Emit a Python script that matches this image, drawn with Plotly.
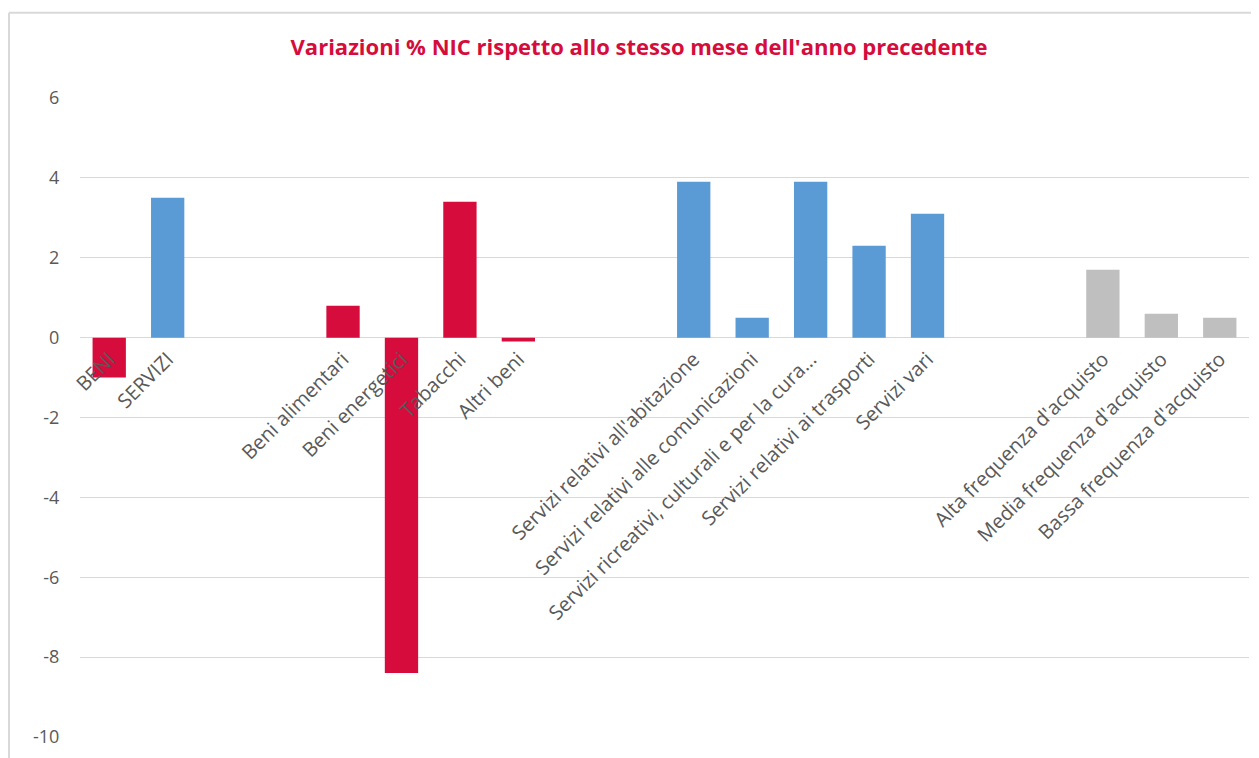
import plotly.graph_objects as go

# Data
categories = ["BENI", "SERVIZI", " ", "  ",
              "Beni alimentari", "Beni energetici", "Tabacchi", "Altri beni", "   ", "    ",
              "Servizi relativi all'abitazione", "Servizi relativi alle comunicazioni",
              "Servizi ricreativi, culturali e per la cura...", "Servizi relativi ai trasporti",
              "Servizi vari", "     ", "      ",
              "Alta frequenza d'acquisto", "Media frequenza d'acquisto", "Bassa frequenza d'acquisto"]
values = [-1.0, 3.5, None, None,
          0.8, -8.4, 3.4, -0.1, None, None,
          3.9, 0.5, 3.9, 2.3, 3.1, None, None,
          1.7, 0.6, 0.5]
groups = ["beni", "servizi", "", "",
          "beni", "beni", "beni", "beni", "", "",
          "servizi", "servizi", "servizi", "servizi", "servizi", "", "",
          "freq", "freq", "freq"]
y_ticks = [6, 4, 2, 0, -2, -4, -6, -8, -10]
y_ticktext = [str(v) for v in y_ticks]
title_text = "Variazioni % NIC rispetto allo stesso mese dell'anno precedente"

group_colors = {"beni": "#D50C3C", "servizi": "#5B9BD5", "freq": "#BFBFBF", "": "#FFFFFF"}
bar_colors = [group_colors[g] for g in groups]

FONT = "Open Sans"
GRID = "#D9D9D9"
TXT = "#595959"

fig = go.Figure(go.Bar(x=categories, y=values, marker=dict(color=bar_colors, line=dict(width=0)),
                       showlegend=False))

# page body has an 8px default margin, so the figure is 8px smaller and margins shifted
ymin, ymax = -10, 6
fig.update_layout(
    width=1251, height=750,
    margin=dict(l=72, r=10, t=90, b=12),
    paper_bgcolor="white", plot_bgcolor="white",
    bargap=0.43,
    title=dict(text=f"<b>{title_text}</b>", x=0.5044, xanchor="center", y=0.947, yanchor="middle",
               font=dict(family=FONT, size=22, color="#D50C3C")),
    font=dict(family=FONT, color=TXT),
    xaxis=dict(type="category", anchor="free", position=(0 - ymin) / (ymax - ymin),
               showgrid=False, showline=False, zeroline=False,
               tickangle=-45, ticks="outside", ticklen=1, tickcolor="rgba(0,0,0,0)",
               tickfont=dict(family=FONT, size=20, color=TXT)),
    yaxis=dict(range=[ymin, ymax], tickvals=y_ticks, ticktext=y_ticktext,
               showgrid=True, gridcolor=GRID, gridwidth=1,
               zeroline=True, zerolinecolor=GRID, zerolinewidth=1, showline=False,
               ticks="outside", ticklen=16, tickcolor="rgba(0,0,0,0)",
               tickfont=dict(family=FONT, size=18, color=TXT)),
)

# chart-area border (outer frame, partially cropped in the reference)
H = 640.0
W = 1161.0
fig.add_shape(type="line", xref="paper", yref="paper",
              x0=(1.5 - 72) / W, x1=(1.5 - 72) / W, y0=(640 + 90 - 4.5) / H, y1=-0.1,
              line=dict(color=GRID, width=2), layer="below")
fig.add_shape(type="line", xref="paper", yref="paper",
              x0=(1.5 - 72) / W, x1=1.1, y0=(640 + 90 - 4.5) / H, y1=(640 + 90 - 4.5) / H,
              line=dict(color=GRID, width=2), layer="below")

fig.write_html("out.html")
